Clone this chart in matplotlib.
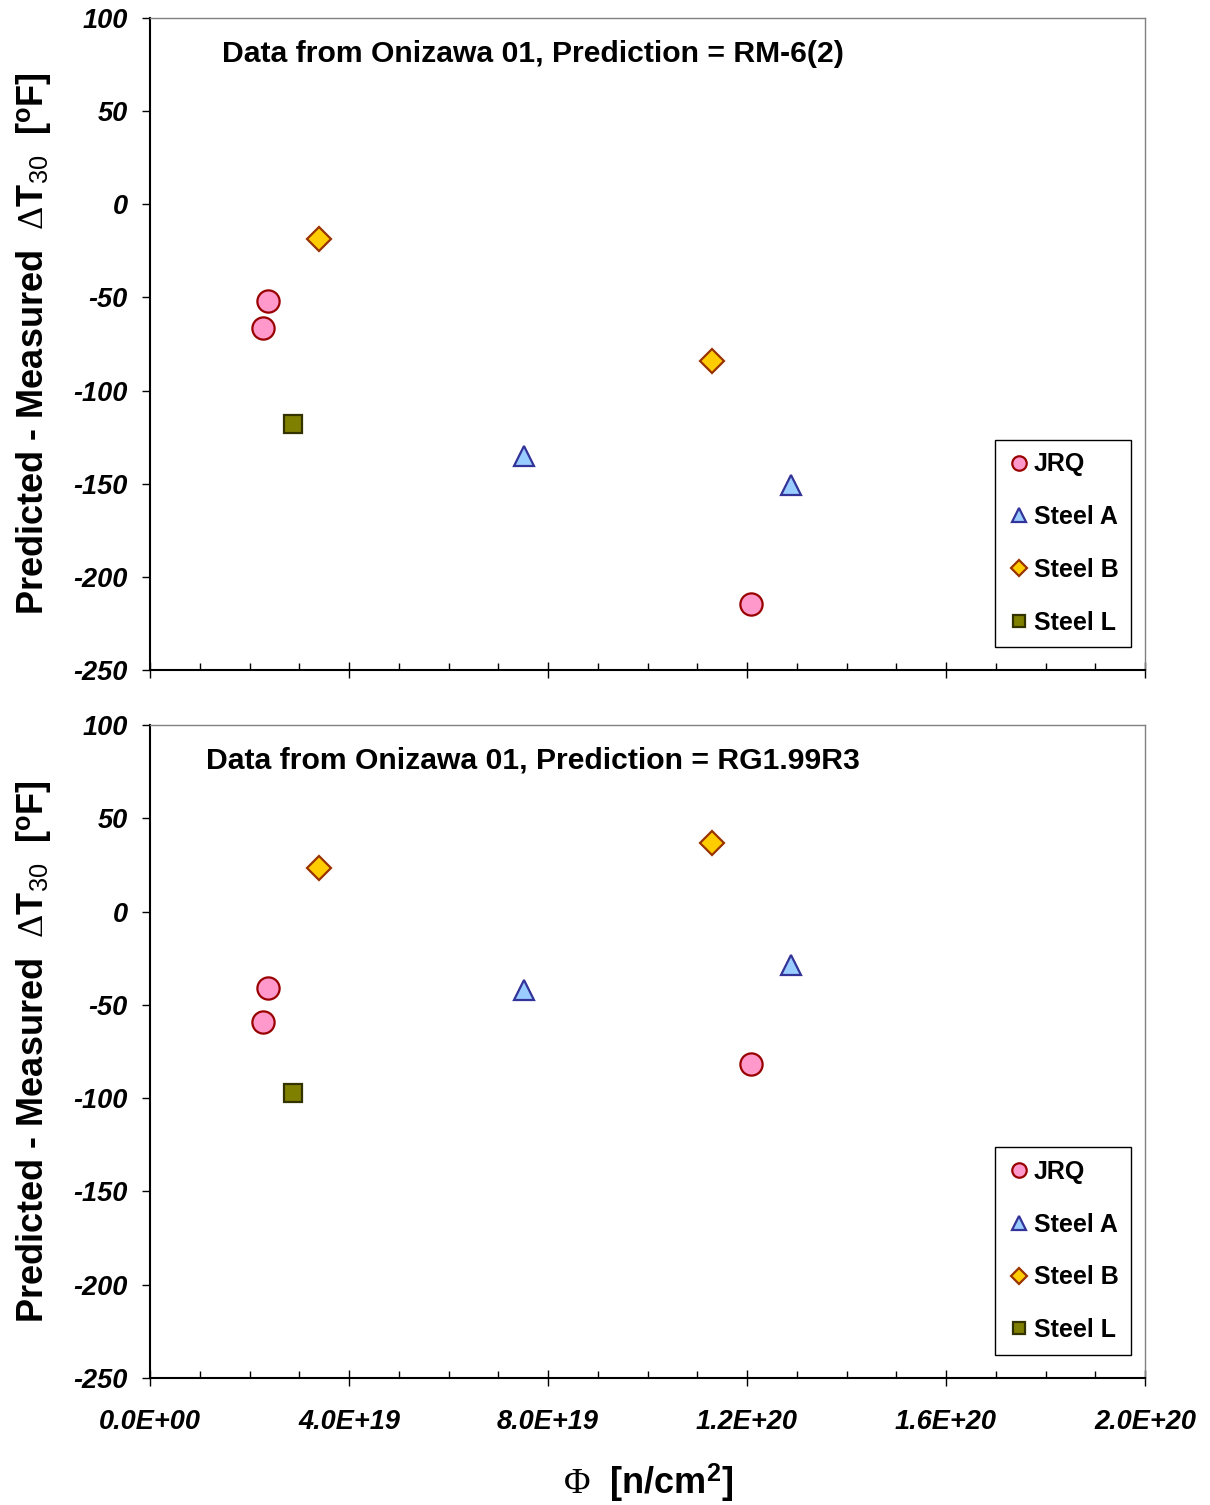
import numpy as np
import matplotlib
matplotlib.use("Agg")
import matplotlib.pyplot as plt
from matplotlib.ticker import MultipleLocator, FuncFormatter

plt.rcParams['font.family'] = ['Liberation Sans', 'DejaVu Sans']
plt.rcParams['axes.unicode_minus'] = False
plt.rcParams['mathtext.fontset'] = 'custom'
plt.rcParams['mathtext.rm'] = 'Liberation Serif'
plt.rcParams['mathtext.sf'] = 'Liberation Sans'
plt.rcParams['mathtext.it'] = 'Liberation Serif:italic'
plt.rcParams['mathtext.bf'] = 'Liberation Serif:bold'

# Fluence [n/cm^2] for each steel (same specimens in both panels)
jrq_phi = [2.27e19, 2.37e19, 12.08e19]
steel_a_phi = [7.52e19, 12.88e19]
steel_b_phi = [3.40e19, 11.30e19]
steel_l_phi = [2.87e19]

# Predicted - measured dT30 [F], RM-6(2)
rm6_jrq = [-66.4, -51.9, -214.6]
rm6_steel_a = [-135.1, -150.7]
rm6_steel_b = [-18.6, -84.1]
rm6_steel_l = [-117.9]

# Predicted - measured dT30 [F], RG1.99R3
rg_jrq = [-59.2, -41.0, -81.7]
rg_steel_a = [-42.0, -28.6]
rg_steel_b = [23.4, 36.8]
rg_steel_l = [-97.3]

series_names = ['JRQ', 'Steel A', 'Steel B', 'Steel L']
panel_titles = ['Data from Onizawa 01, Prediction = RM-6(2)',
                'Data from Onizawa 01, Prediction = RG1.99R3']

styles = [
    dict(marker='o', ms=16, mfc='#FF99CC', mec='#990000'),
    dict(marker='^', ms=14.5, mfc='#99CCFF', mec='#333399'),
    dict(marker='D', ms=12, mfc='#FFCC00', mec='#993300'),
    dict(marker='s', ms=13, mfc='#808000', mec='#333300'),
]

phis = [jrq_phi, steel_a_phi, steel_b_phi, steel_l_phi]
panels = [
    [rm6_jrq, rm6_steel_a, rm6_steel_b, rm6_steel_l],
    [rg_jrq, rg_steel_a, rg_steel_b, rg_steel_l],
]

fig = plt.figure(figsize=(12.1, 15.05), dpi=100)
ax_top = fig.add_axes([0.1240, 0.5548, 0.8223, 0.4332])
ax_bot = fig.add_axes([0.1240, 0.0844, 0.8223, 0.4339])

tick_font = dict(family=['Liberation Sans', 'DejaVu Sans'], weight='bold',
                 style='italic', size=19.5)


def sci_label(v, pos):
    return '%.1E' % v


for k, (ax, vals, title) in enumerate(zip([ax_top, ax_bot], panels, panel_titles)):
    for name, st, x, y in zip(series_names, styles, phis, vals):
        ax.plot(x, y, linestyle='none', mew=1.6, label=name, **st)

    ax.set_xlim(0, 2.0e20)
    ax.set_ylim(-250, 100)
    ax.xaxis.set_major_locator(MultipleLocator(4e19))
    ax.xaxis.set_minor_locator(MultipleLocator(1e19))
    ax.yaxis.set_major_locator(MultipleLocator(50))

    ax.tick_params(axis='y', direction='out', length=6, width=1, pad=10)
    ax.tick_params(axis='x', which='major', direction='inout', length=12,
                   width=1, pad=16)
    ax.tick_params(axis='x', which='minor', direction='in', length=5, width=1)

    for lab in ax.get_yticklabels():
        lab.set_fontproperties(tick_font)
    if k == 1:
        ax.xaxis.set_major_formatter(FuncFormatter(sci_label))
        for lab in ax.get_xticklabels():
            lab.set_fontproperties(tick_font)
    else:
        ax.set_xticklabels([])

    ax.spines['left'].set_linewidth(1.5)
    ax.spines['bottom'].set_linewidth(1.5)
    for side in ['top', 'right']:
        ax.spines[side].set_color('#808080')
        ax.spines[side].set_linewidth(1)

    ax.text(0.385, 0.945, title, transform=ax.transAxes, ha='center',
            va='center', fontsize=21.7, fontweight='bold')

    ax.set_ylabel(r'Predicted - Measured  $\Delta$T$_\mathsf{30}$  [$^\mathregular{o}$F]',
                  fontsize=26, fontweight='bold')
    ax.yaxis.set_label_coords(-0.098, 0.5)

    leg = ax.legend(loc='upper left', bbox_to_anchor=(0.849, 0.353),
                    borderaxespad=0, fancybox=False, framealpha=1,
                    edgecolor='black', markerscale=0.65, handlelength=0.92,
                    handletextpad=0.14, labelspacing=1.15, borderpad=0.5,
                    prop=dict(weight='bold', size=18))
    leg.get_frame().set_linewidth(1)

ax_bot.set_xlabel(r'$\Phi$  [n/cm$^\mathregular{2}$]', fontsize=26,
                  fontweight='bold', labelpad=20)

fig.savefig('out.png', dpi=100)
